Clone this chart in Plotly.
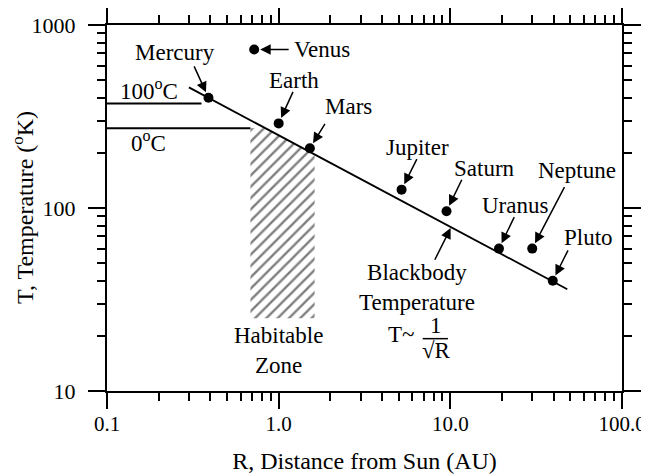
import numpy as np
import plotly.graph_objects as go

# ---------------- data ----------------
planets = ["Mercury", "Venus", "Earth", "Mars", "Jupiter", "Saturn", "Uranus", "Neptune", "Pluto"]
planet_R = [0.39, 0.72, 1.0, 1.52, 5.2, 9.5, 19.2, 30.0, 39.5]
planet_T = [400, 735, 290, 212, 126, 96, 60, 60, 40]

blackbody_R = [0.30, 48.0]
blackbody_T = [456, 36]

boil_R = [0.1, 0.355]
boil_T = [373, 373]
freeze_R = [0.1, 0.685]
freeze_T = [273, 273]

zone_R = [0.685, 0.84, 1.62, 1.62, 0.685, 0.685]
zone_T = [273, 273, 196, 25, 25, 273]

x_tickvals = [0.1, 1, 10, 100]
x_ticktext = ["0.1", "1.0", "10.0", "100.0"]
y_tickvals = [10, 100, 1000]
y_ticktext = ["10", "100", "1000"]

# ---------------- styling / layout offsets ----------------
FONT = "'Liberation Serif', 'Times New Roman', Times, 'DejaVu Serif', serif"
FS = 23
# arrow tail offsets (px) and label shifts (px, y up)
arrow_off = {
    "Mercury": (-15, -33), "Venus": (36, 0), "Earth": (15, -33), "Mars": (16, -26),
    "Jupiter": (16, -32), "Saturn": (16, -33), "Uranus": (16, -33),
    "Neptune": (33, -63), "Pluto": (16, -32),
}
label_off = {
    "Mercury": (-33, 45), "Venus": (38, 0), "Earth": (15, 43), "Mars": (39, 42),
    "Jupiter": (16, 42), "Saturn": (38, 43), "Uranus": (16, 43),
    "Neptune": (45, 78), "Pluto": (36, 43),
}

fig = go.Figure()

# habitable zone hatch
fig.add_trace(go.Scatter(
    x=zone_R, y=zone_T, mode="lines", fill="toself",
    line=dict(width=0, color="rgba(0,0,0,0)"),
    fillcolor="rgba(0,0,0,0)",
    fillpattern=dict(shape="/", fgcolor="black", bgcolor="white", size=8, solidity=0.3),
    hoverinfo="skip", showlegend=False,
))

# water lines
for xs, ys in [(boil_R, boil_T), (freeze_R, freeze_T)]:
    fig.add_trace(go.Scatter(x=xs, y=ys, mode="lines",
                             line=dict(color="black", width=2), showlegend=False))

# blackbody line
fig.add_trace(go.Scatter(x=blackbody_R, y=blackbody_T, mode="lines",
                         line=dict(color="black", width=1.8), showlegend=False))

# planets
fig.add_trace(go.Scatter(x=planet_R, y=planet_T, mode="markers",
                         marker=dict(color="black", size=10), showlegend=False))

ann = []
for name, r, t in zip(planets, planet_R, planet_T):
    ax, ay = arrow_off[name]
    ann.append(dict(x=np.log10(r), y=np.log10(t), xref="x", yref="y", text="",
                    showarrow=True, ax=ax, ay=ay, arrowhead=2, arrowsize=1.4,
                    arrowwidth=1.5, arrowcolor="black", standoff=6))
    dx, dy = label_off[name]
    ann.append(dict(x=np.log10(r), y=np.log10(t), xref="x", yref="y", text=name,
                    showarrow=False, xshift=dx, yshift=dy,
                    xanchor="left" if name == "Venus" else "center",
                    font=dict(family=FONT, size=FS, color="black")))

# blackbody annotation
bb_R = 10.1
bb_T = 10 ** np.interp(np.log10(bb_R), np.log10(blackbody_R), np.log10(blackbody_T))
ann.append(dict(x=np.log10(bb_R), y=np.log10(bb_T), xref="x", yref="y", text="",
                showarrow=True, ax=-17, ay=34, arrowhead=2, arrowsize=1.4,
                arrowwidth=1.5, arrowcolor="black", standoff=1))
ann.append(dict(x=np.log10(bb_R), y=np.log10(bb_T), xref="x", yref="y",
                text="Blackbody<br>Temperature", showarrow=False,
                xshift=-34, yshift=-60, font=dict(family=FONT, size=FS, color="black")))
ann.append(dict(x=np.log10(bb_R), y=np.log10(bb_T), xref="x", yref="y",
                text="T~", showarrow=False, xshift=-50, yshift=-107,
                font=dict(family=FONT, size=FS, color="black")))
ann.append(dict(x=np.log10(bb_R), y=np.log10(bb_T), xref="x", yref="y",
                text="1", showarrow=False, xshift=-15, yshift=-98,
                font=dict(family=FONT, size=FS, color="black")))
ann.append(dict(x=np.log10(bb_R), y=np.log10(bb_T), xref="x", yref="y",
                text="\u221aR", showarrow=False, xshift=-15, yshift=-123,
                font=dict(family=FONT, size=FS, color="black")))

# water line labels
ann.append(dict(x=np.log10(0.175), y=np.log10(boil_T[0]), xref="x", yref="y",
                text="100<sup>o</sup>C", showarrow=False, yshift=14,
                font=dict(family=FONT, size=FS, color="black")))
ann.append(dict(x=np.log10(0.175), y=np.log10(freeze_T[0]), xref="x", yref="y",
                text="0<sup>o</sup>C", showarrow=False, yshift=-13,
                font=dict(family=FONT, size=FS, color="black")))

# habitable zone label
ann.append(dict(x=np.log10(1.0), y=np.log10(zone_T[3]), xref="x", yref="y",
                text="Habitable<br>Zone", showarrow=False, yshift=-32,
                font=dict(family=FONT, size=FS, color="black")))

# y axis title (as rotated annotation, positioned in the left margin)
ann.append(dict(x=0, y=0.5, xref="paper", yref="paper", xanchor="center", yanchor="middle",
                text="T, Temperature (<sup>o</sup>K)", textangle=-90, showarrow=False,
                xshift=-84, font=dict(family=FONT, size=FS + 1, color="black")))

# fraction bar (paper coords)
shapes = [dict(type="line", xref="paper", yref="paper",
               x0=0.613, x1=0.662, y0=0.143, y1=0.143,
               line=dict(color="black", width=1.5))]

axis_common = dict(
    type="log", showgrid=False, zeroline=False, automargin=False,
    showline=True, linecolor="black", linewidth=2,
    mirror="ticks", ticks="outside", tickcolor="black", tickwidth=2,
    minor=dict(ticks="outside", ticklen=8, tickwidth=1.5, tickcolor="black",
               dtick="D1", showgrid=False),
)

# the page body adds an 8px offset at top/left, so the figure is 8px smaller
fig.update_layout(
    width=641, height=466,
    margin=dict(l=99, r=27, t=17, b=83, autoexpand=False),
    paper_bgcolor="white", plot_bgcolor="white",
    showlegend=False,
    font=dict(family=FONT, size=FS, color="black"),
    annotations=ann, shapes=shapes,
    xaxis=dict(**axis_common, range=[-1, 2], ticklen=16,
               tickfont=dict(family=FONT, size=21, color="black"),
               tickmode="array", tickvals=x_tickvals, ticktext=x_ticktext,
               ticklabelstandoff=-3,
               title=dict(text="R, Distance from Sun (AU)",
                          font=dict(family=FONT, size=FS + 1, color="black"), standoff=24)),
    yaxis=dict(**axis_common, range=[1, 3], ticklen=17,
               tickfont=dict(family=FONT, size=22, color="black"),
               tickmode="array", tickvals=y_tickvals, ticktext=y_ticktext,
               ticklabelstandoff=8),
)

fig.write_html("out.html")
